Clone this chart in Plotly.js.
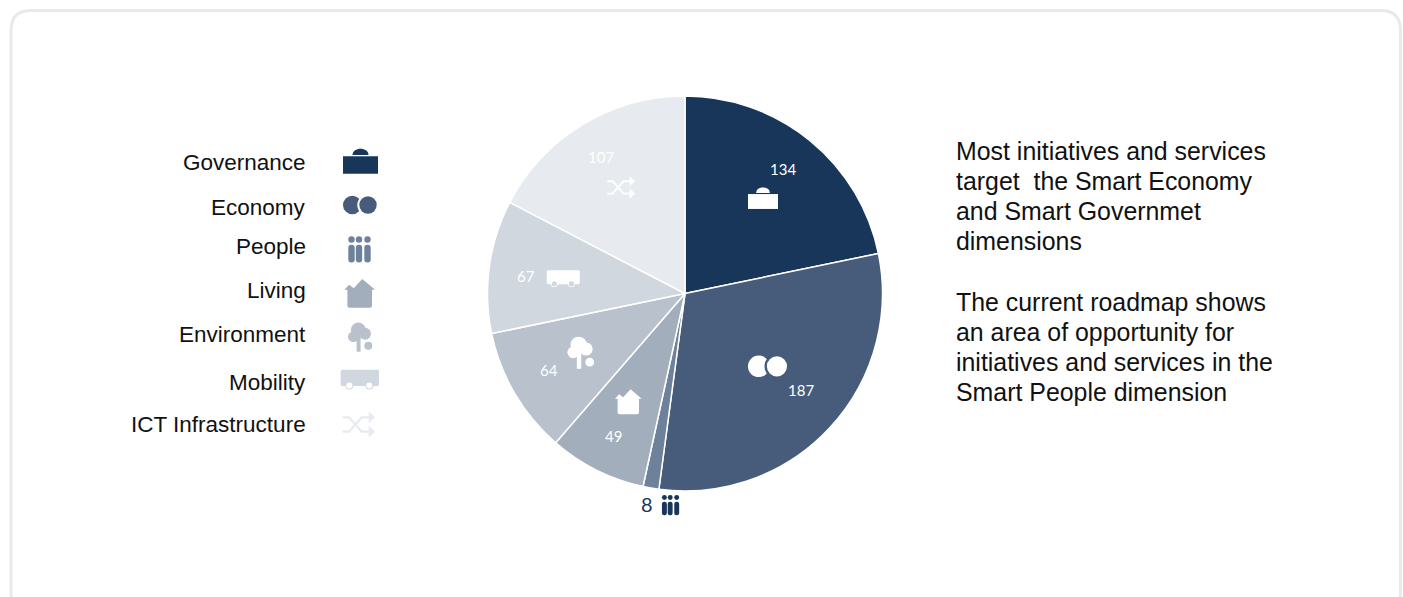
<!DOCTYPE html>
<html>
<head>
<meta charset="utf-8">
<title>Initiatives and services by Smart City dimension</title>
<script src="https://cdn.plot.ly/plotly-3.0.1.min.js"></script>
<style>
  html, body { margin: 0; padding: 0; background: #fff; overflow: hidden; }
  #chart { width: 1403px; height: 597px; }
</style>
</head>
<body>
<div id="chart"></div>
<script>
// Initiatives and services per dimension
const categories = ["Governance", "Economy", "People", "Living", "Environment", "Mobility", "ICT Infrastructure"];
const counts = [134, 187, 8, 49, 64, 67, 107];
const sliceColors = ["#18365a", "#475c7a", "#6e819a", "#a2aebc", "#b9c1cd", "#d1d7df", "#e7eaee"];
const commentary = [
  "Most initiatives and services",
  "target\u00a0 the Smart Economy",
  "and Smart Governmet",
  "dimensions",
  "",
  "The current roadmap shows",
  "an area of opportunity for",
  "initiatives and services in the",
  "Smart People dimension"
];

const W = 1403, H = 597;
const fx = x => x / W;
const fy = y => 1 - y / H;

// Pie geometry in page pixels
const cx = 685, cy = 293.5, radius = 197.5;

// Shape helpers: every icon is described in local pixels around an origin
const shapes = [];
function circle(ox, oy, s, x, y, r, color) {
  shapes.push({ type: "circle", xref: "paper", yref: "paper",
    x0: fx(ox + (x - r) * s), x1: fx(ox + (x + r) * s),
    y0: fy(oy + (y + r) * s), y1: fy(oy + (y - r) * s),
    fillcolor: color, line: { width: 0 } });
}
function path(ox, oy, s, segs, fill, stroke, sw) {
  const d = segs.map(seg => seg[0] + seg.slice(1).map((v, i) =>
    i % 2 === 0 ? fx(ox + v * s) : fy(oy + v * s)).join(",")).join(" ");
  shapes.push({ type: "path", xref: "paper", yref: "paper", path: d,
    fillcolor: fill || "rgba(0,0,0,0)",
    line: stroke ? { color: stroke, width: sw * s } : { width: 0 } });
}
function roundRect(ox, oy, s, x0, y0, x1, y1, r, color) {
  path(ox, oy, s, [["M", x0 + r, y0], ["L", x1 - r, y0], ["Q", x1, y0, x1, y0 + r],
    ["L", x1, y1 - r], ["Q", x1, y1, x1 - r, y1], ["L", x0 + r, y1],
    ["Q", x0, y1, x0, y1 - r], ["L", x0, y0 + r], ["Q", x0, y0, x0 + r, y0], ["Z"]], color);
}

const icons = {
  Governance(ox, oy, s, fg) {
    path(ox, oy, s, [["M", -17.5, -5.2], ["L", 17.5, -5.2], ["L", 17.5, 12.2], ["L", -17.5, 12.2], ["Z"]], fg);
    path(ox, oy, s, [["M", -8, -6.4], ["C", -8, -14.8, 8, -14.8, 8, -6.4], ["Z"]], fg);
  },
  Economy(ox, oy, s, fg, bg) {
    circle(ox, oy, s, -8, 0, 9.3, fg);
    circle(ox, oy, s, 7.7, 0, 10.7, bg);
    circle(ox, oy, s, 7.7, 0, 8.7, fg);
  },
  People(ox, oy, s, fg) {
    [-7.8, -0.3, 8.2].forEach(x => {
      circle(ox, oy, s, x, -10.3, 3.2, fg);
      roundRect(ox, oy, s, x - 3.2, -5, x + 3.2, 12.6, 3, fg);
    });
  },
  Living(ox, oy, s, fg) {
    path(ox, oy, s, [["M", 2.6, -14.3], ["L", 15.4, -3.5], ["L", 12.3, -3.5], ["L", 12.3, 12.4],
      ["Q", 12.3, 14.4, 10.3, 14.4], ["L", -10.3, 14.4], ["Q", -12.3, 14.4, -12.3, 12.4],
      ["L", -12.3, -3.5], ["L", -15.4, -3.5], ["L", -10.5, -8.6], ["L", -6, -5], ["Z"]], fg);
  },
  Environment(ox, oy, s, fg) {
    circle(ox, oy, s, 0, -6.7, 7.5, fg);
    circle(ox, oy, s, -5, 0, 5.3, fg);
    circle(ox, oy, s, 6.7, -3, 6, fg);
    path(ox, oy, s, [["M", -1.7, -3], ["L", 2.3, -3], ["L", 2.3, 15], ["L", -1.7, 15], ["Z"]], fg);
    circle(ox, oy, s, 10, 9, 4, fg);
  },
  Mobility(ox, oy, s, fg, bg) {
    roundRect(ox, oy, s, -19.2, -8.2, 19.2, 8, 1.6, fg);
    [-10.5, 9.5].forEach(x => {
      circle(ox, oy, s, x, 7.6, 4, fg);
      circle(ox, oy, s, x, 7.6, 3, bg);
    });
  },
  "ICT Infrastructure"(ox, oy, s, fg) {
    path(ox, oy, s, [["M", -16, -6.7], ["L", -9.7, -6.7], ["L", 3, 7.7], ["L", 11, 7.7]], null, fg, 2.2);
    path(ox, oy, s, [["M", -16, 7.7], ["L", -9.7, 7.7], ["L", 3, -6.7], ["L", 11, -6.7]], null, fg, 2.2);
    path(ox, oy, s, [["M", 10, -12.6], ["L", 16.4, -6.7], ["L", 10, -0.8], ["Z"]], fg);
    path(ox, oy, s, [["M", 10, 1.8], ["L", 16.4, 7.7], ["L", 10, 13.6], ["Z"]], fg);
  }
};

// Card outline, cut off by the bottom edge of the page
const bx0 = 11, by0 = 10.5, bx1 = 1400.5, by1 = 612, br = 20;
path(0, 0, 1, [["M", bx0 + br, by0], ["L", bx1 - br, by0], ["Q", bx1, by0, bx1, by0 + br],
  ["L", bx1, by1 - br], ["Q", bx1, by1, bx1 - br, by1], ["L", bx0 + br, by1],
  ["Q", bx0, by1, bx0, by1 - br], ["L", bx0, by0 + br], ["Q", bx0, by0, bx0 + br, by0], ["Z"]],
  null, "#e9e9e9", 3);

// Legend column: icon origin per category
const legendIconAt = [[360.5, 161.5], [360.3, 205], [359.3, 249.8], [359.7, 293.3], [358.3, 336.7], [359.8, 378], [358.7, 424]];
const legendTextY = [162.3, 207, 246, 290.5, 334, 382, 424];
// Icons sitting inside the pie, with their scale
const pieIconAt = [[763, 198.5, 0.857], [768, 366.3, 1.16], [670.4, 505.5, 0.77], [628.3, 401.7, 0.87],
  [578.7, 352.3, 1.1], [563.3, 277.3, 0.86], [621, 187, 0.86]];
const valueLabelAt = [[782.7, 169.3], [800.7, 390.3], [647, 504.3], [613.3, 436.3], [548.8, 370.3], [526.2, 276.3], [600.7, 157.3]];
const smallSlice = 2; // too thin for its label, so it goes outside the pie

const annotations = [];
categories.forEach((name, i) => {
  icons[name](legendIconAt[i][0], legendIconAt[i][1], 1, sliceColors[i], "#ffffff");
  const [px, py, ps] = pieIconAt[i];
  const outside = i === smallSlice;
  icons[name](px, py, ps, outside ? sliceColors[0] : "#ffffff", outside ? "#ffffff" : sliceColors[i]);

  annotations.push({ xref: "paper", yref: "paper", x: fx(306.5), y: fy(legendTextY[i]),
    xanchor: "right", yanchor: "middle", showarrow: false, text: name, borderpad: 0,
    font: { family: "Liberation Sans, Helvetica, Arial, sans-serif", size: 22.5, color: "#111111" } });
  annotations.push({ xref: "paper", yref: "paper", x: fx(valueLabelAt[i][0]), y: fy(valueLabelAt[i][1]),
    xanchor: "center", yanchor: "middle", showarrow: false, text: String(counts[i]), borderpad: 0,
    font: { family: "Lato, Open Sans, sans-serif", size: outside ? 20 : 15, color: outside ? sliceColors[0] : "#ffffff" } });
});

commentary.forEach((line, i) => {
  if (!line) return;
  annotations.push({ xref: "paper", yref: "paper", x: fx(954.8), y: fy(151.5 + i * 30),
    xanchor: "left", yanchor: "middle", showarrow: false, text: line, borderpad: 0,
    font: { family: "Liberation Sans, Helvetica, Arial, sans-serif", size: 24.9, color: "#111111" } });
});

const trace = {
  type: "pie",
  labels: categories,
  values: counts,
  sort: false,
  direction: "clockwise",
  rotation: 0,
  textinfo: "none",
  hoverinfo: "label+value+percent",
  automargin: false,
  domain: { x: [fx(cx - radius), fx(cx + radius)], y: [fy(cy + radius), fy(cy - radius)] },
  marker: { colors: sliceColors, line: { color: "#ffffff", width: 1.5 } }
};

Plotly.newPlot("chart", [trace], {
  width: W, height: H,
  margin: { l: 0, r: 0, t: 0, b: 0 },
  paper_bgcolor: "#ffffff",
  showlegend: false,
  shapes, annotations
}, { displayModeBar: false, responsive: false });
</script>
</body>
</html>
